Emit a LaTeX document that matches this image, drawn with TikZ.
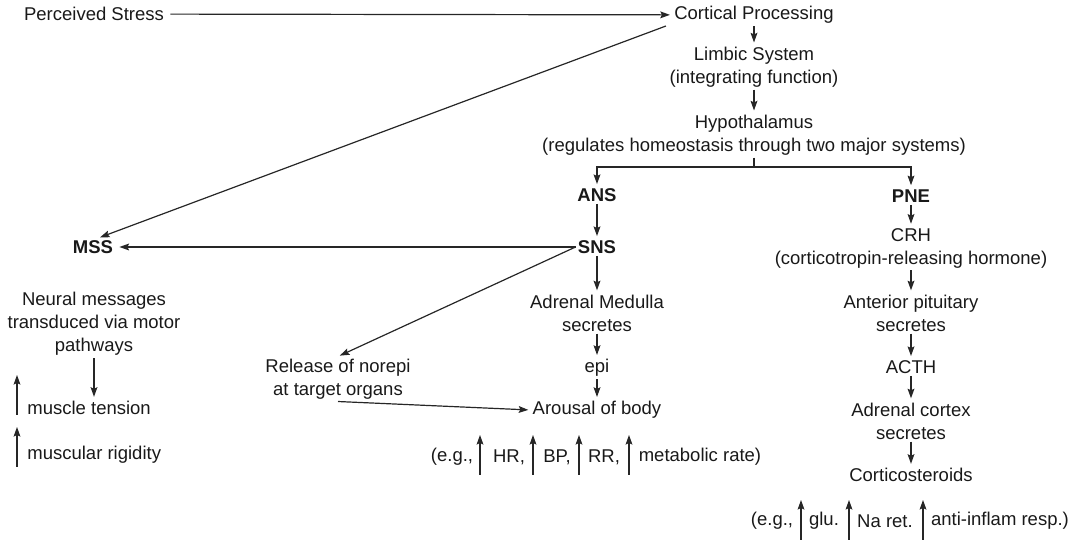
\documentclass[tikz,border=0pt]{standalone}
\usepackage{fontspec}
\setmainfont{Liberation Sans}
\usetikzlibrary{arrows.meta}
\tikzset{%
  txt/.style  = {font=\fontsize{9.25}{11.5}\selectfont, align=center,
                 inner sep=1pt, text=black!90},
  sys/.style  = {txt, font=\fontsize{9.25}{11.5}\selectfont\bfseries},
  link/.style = {draw=black!85, line width=0.6pt},
  flow/.style = {link, shorten >=1pt},
  }

\begin{document}
\begin{tikzpicture}[x=0.5pt, y=-0.5pt,
    >={Stealth[length=4.8pt,width=3.4pt,inset=0.8pt]}]
    \useasboundingbox (0,0) rectangle (1083,544);

    % main chain
    \node (stress)    [txt] at (94,14)   {Perceived Stress};
    \node (cortex)    [txt] at (754,15)  {Cortical Processing};
    \node (limbic)    [txt] at (754,67)  {Limbic System\\(integrating function)};
    \node (hypo)      [txt] at (754,135) {Hypothalamus\\(regulates homeostasis through two major systems)};
    \coordinate (split) at (754,167);

    % ANS side
    \node (ans)       [sys] at (597,195) {ANS};
    \node (sns)       [sys] at (597,247) {SNS};
    \node (medulla)   [txt] at (597,313) {Adrenal Medulla\\secretes};
    \node (epi)       [txt] at (597,368) {epi};
    \node (arousal)   [txt] at (597,410) {Arousal of body};
    \node (norepi)    [txt] at (338,379) {Release of norepi\\at target organs};
    \node (egSns)     [txt] at (452,457) {(e.g.,};
    \node (hr)        [txt] at (509,457) {HR,};
    \node (bp)        [txt] at (557,457) {BP,};
    \node (rr)        [txt] at (604,457) {RR,};
    \node (rate)      [txt] at (700,457) {metabolic rate)};

    % MSS side
    \node (mss)       [sys] at (93,247)  {MSS};
    \node (neural)    [txt] at (94,324)  {Neural messages\\transduced via motor\\pathways};
    \node (tension)   [txt, anchor=west] at (25,408) {muscle tension};
    \node (rigid)     [txt, anchor=west] at (25,455) {muscular rigidity};

    % PNE side
    \node (pne)       [sys] at (911,196) {PNE};
    \node (crh)       [txt] at (911,248) {CRH\\(corticotropin-releasing hormone)};
    \node (pituitary) [txt] at (911,313) {Anterior pituitary\\secretes};
    \node (acth)      [txt] at (911,367) {ACTH};
    \node (adrcortex) [txt] at (911,421) {Adrenal cortex\\secretes};
    \node (steroids)  [txt] at (911,475) {Corticosteroids};
    \node (egPne)     [txt] at (772,521) {(e.g.,};
    \node (glu)       [txt] at (824,521) {glu.};
    \node (na)        [txt] at (885,521) {Na ret.};
    \node (inflam)    [txt] at (1000,521) {anti-inflam resp.)};

    \path[->] (stress)    edge [flow, shorten <=2pt] (cortex)
              (cortex)    edge [flow] (limbic)
              (limbic)    edge [flow] (hypo)
              ([xshift=-3pt]cortex.south west) edge [flow] (mss.60)
              (ans)       edge [flow] (sns)
              (sns)       edge [flow, shorten >=2pt] (mss)
                          edge [flow] (medulla)
              (sns.west)  edge [flow] (norepi.north)
              (medulla)   edge [flow] (epi)
              (epi)       edge [flow] (arousal)
              (norepi.south) edge [flow] (arousal.west)
              (neural.south) edge [flow] (neural.south |- tension.north)
              (pne)       edge [flow] (crh)
              (crh)       edge [flow] (pituitary)
              (pituitary) edge [flow] (acth)
              (acth)      edge [flow] (adrcortex)
              (adrcortex) edge [flow] (steroids);

    \draw[link] (hypo) -- (split);
    \draw[flow, ->] (split) -| (ans);
    \draw[flow, ->] (split) -| (pne);

    % increase arrows
    \foreach \n/\x/\y in {upTension/17/415, upRigid/17/467,
                          upHR/480/475, upBP/533/475, upRR/579/475, upRate/629/475,
                          upGlu/801/540, upNa/849/540, upInflam/923/540}{
      \coordinate (\n) at (\x,\y);
      \coordinate (\n-top) at (\x,\y-40);
      \draw[link, ->] (\n) -- (\n-top);
    }
\end{tikzpicture}
\end{document}
